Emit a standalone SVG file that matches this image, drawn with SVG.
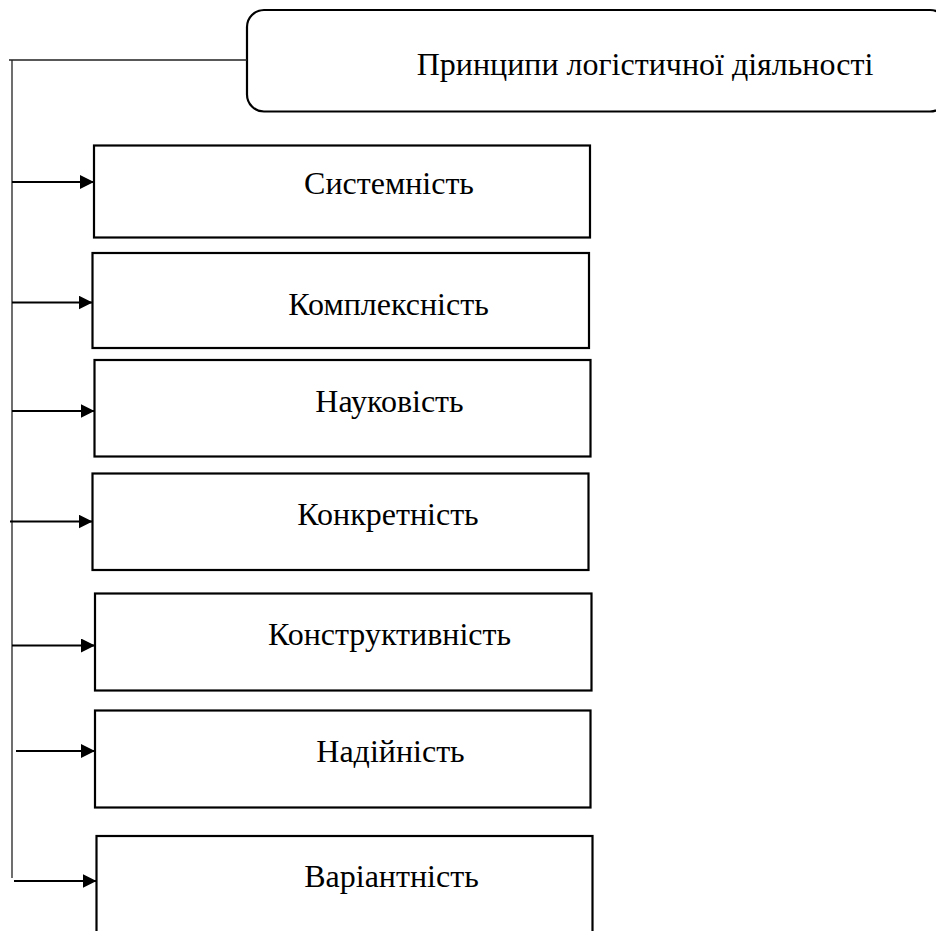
<svg xmlns="http://www.w3.org/2000/svg" width="936" height="931" viewBox="0 0 936 931">
<style>
.box{fill:#fff;stroke:#000;stroke-width:2.2}
.t{font-family:"Liberation Serif","Times New Roman",serif;font-size:32px;fill:#000;text-anchor:middle}
.thin{fill:none;stroke:#222;stroke-width:1.3}
.arr{fill:none;stroke:#000;stroke-width:2;marker-end:url(#ah)}
</style>
<defs>
<marker id="ah" markerUnits="userSpaceOnUse" markerWidth="15" markerHeight="15" refX="14" refY="7" orient="auto">
<path d="M0,0 L14,7 L0,14 Z" fill="#000"/>
</marker>
</defs>
<g id="title">
<rect class="box" x="247" y="10" width="700" height="101.5" rx="17" ry="17"/>
<text class="t" x="645" y="75">Принципи логістичної діяльності</text>
</g>
<g id="n1"><rect class="box" x="94" y="145.5" width="496" height="92"/><text class="t" x="389" y="194">Системність</text></g>
<g id="n2"><rect class="box" x="92.5" y="253" width="496.5" height="95"/><text class="t" x="388.5" y="315">Комплексність</text></g>
<g id="n3"><rect class="box" x="94.5" y="360" width="496" height="96.5"/><text class="t" x="389.5" y="411.5">Науковість</text></g>
<g id="n4"><rect class="box" x="92.5" y="473.5" width="496" height="96.5"/><text class="t" x="388" y="525">Конкретність</text></g>
<g id="n5"><rect class="box" x="95" y="593.5" width="496.5" height="97"/><text class="t" x="389.5" y="645">Конструктивність</text></g>
<g id="n6"><rect class="box" x="95" y="710.5" width="495.5" height="97"/><text class="t" x="390.5" y="762">Надійність</text></g>
<g id="n7"><rect class="box" x="96.5" y="836" width="496" height="110"/><text class="t" x="391.5" y="887">Варіантність</text></g>
<g id="connectors">
<path class="thin" d="M9,60 H247 M12,60 V878"/>
<path class="arr" d="M12,182 H94"/>
<path class="arr" d="M12,302.5 H92.5"/>
<path class="arr" d="M12,411 H94.5"/>
<path class="arr" d="M10,521.5 H92.5"/>
<path class="arr" d="M12,645.5 H95"/>
<path class="arr" d="M16,751 H95"/>
<path class="arr" d="M14,881 H96.5"/>
</g>
</svg>
